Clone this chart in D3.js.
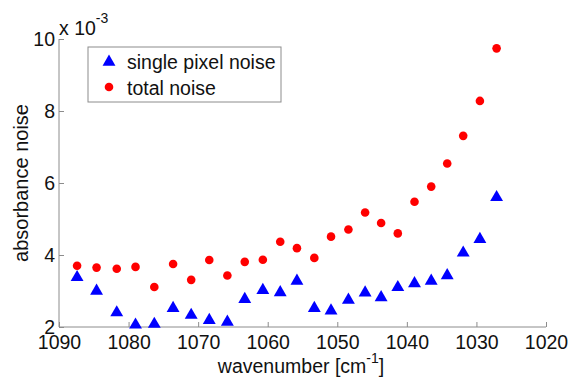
<!DOCTYPE html>
<html>
<head>
<meta charset="utf-8">
<script src="https://cdn.jsdelivr.net/npm/d3@7"></script>
<style>
  html, body { margin: 0; padding: 0; background: #fff; }
  svg { display: block; font-family: "Liberation Sans", Arial, sans-serif; }
</style>
</head>
<body>
<svg id="chart" width="570" height="379"></svg>
<script>
// Wavenumbers of the sampled channels (cm^-1)
const wavenumbers = [1087.4, 1084.6, 1081.7, 1079.0, 1076.3, 1073.6, 1071.0, 1068.4, 1065.8,
  1063.3, 1060.7, 1058.2, 1055.8, 1053.3, 1050.9, 1048.4, 1046.0, 1043.7, 1041.3,
  1038.9, 1036.5, 1034.2, 1031.9, 1029.5, 1027.1];

// Absorbance noise, units of 1e-3
const singlePixelNoise = [3.38, 3.00, 2.40, 2.06, 2.08, 2.52, 2.33, 2.19, 2.14,
  2.77, 3.02, 2.96, 3.28, 2.52, 2.45, 2.75, 2.95, 2.82, 3.10,
  3.21, 3.28, 3.43, 4.06, 4.44, 5.60];
const totalNoise = [3.70, 3.65, 3.62, 3.67, 3.11, 3.75, 3.31, 3.86, 3.43,
  3.81, 3.87, 4.37, 4.19, 3.92, 4.51, 4.71, 5.18, 4.89, 4.60,
  5.48, 5.90, 6.54, 7.31, 8.28, 9.74];

const xTicks = [1090, 1080, 1070, 1060, 1050, 1040, 1030, 1020];
const yTicks = [2, 4, 6, 8, 10];
const seriesNames = ["single pixel noise", "total noise"];

const svg = d3.select("#chart");
const margin = { left: 59, right: 24, top: 39, bottom: 52 };
const W = 570, H = 379;
const fs = 19.5;

const x = d3.scaleLinear().domain([1090, 1020]).range([margin.left, W - margin.right]);
const y = d3.scaleLinear().domain([2, 10]).range([H - margin.bottom, margin.top]);

const axisColor = "#8c8c8c";
const textColor = "#111";

// Bottom axis with inward ticks
const xAxis = svg.append("g")
  .attr("transform", `translate(0,${y(2)})`)
  .call(d3.axisBottom(x).tickValues(xTicks).tickSize(-5).tickFormat(d3.format("d")));
xAxis.select(".domain").attr("stroke", axisColor).attr("d", `M${x(1090)},0H${x(1020)}`);
xAxis.selectAll(".tick line").attr("stroke", axisColor);
xAxis.selectAll(".tick text").attr("fill", textColor).attr("font-size", fs)
  .attr("y", 22).attr("dy", 0);

// Left axis with inward ticks
const yAxis = svg.append("g")
  .attr("transform", `translate(${x(1090)},0)`)
  .call(d3.axisLeft(y).tickValues(yTicks).tickSize(-5).tickFormat(d3.format("d")));
yAxis.select(".domain").attr("stroke", axisColor).attr("d", `M0,${y(2)}V${y(10)}`);
yAxis.selectAll(".tick line").attr("stroke", axisColor);
yAxis.selectAll(".tick text").attr("fill", textColor).attr("font-size", fs)
  .attr("x", -4).attr("dy", "0.35em");

// Exponent label above the y axis
const expo = svg.append("text").attr("x", x(1090)).attr("y", 35)
  .attr("fill", textColor).attr("font-size", fs);
expo.append("tspan").text("x 10");
expo.append("tspan").attr("font-size", 14).attr("dy", -12).text("-3");

// Axis titles
const xTitle = svg.append("text").attr("x", 301).attr("y", 373)
  .attr("text-anchor", "middle").attr("fill", textColor).attr("font-size", fs);
xTitle.append("tspan").text("wavenumber [cm");
xTitle.append("tspan").attr("font-size", 14).attr("dy", -10).text("-1");
xTitle.append("tspan").attr("dy", 10).text("]");

svg.append("text")
  .attr("transform", `translate(28,${(y(2) + y(10)) / 2}) rotate(-90)`)
  .attr("text-anchor", "middle").attr("fill", textColor).attr("font-size", 20)
  .text("absorbance noise");

// Markers
const tri = d3.symbol().type(d3.symbolTriangle).size(72);
svg.append("g").selectAll("path").data(wavenumbers)
  .join("path")
  .attr("d", tri)
  .attr("transform", (d, i) => `translate(${x(d)},${y(singlePixelNoise[i])})`)
  .attr("fill", "#0000ff");

svg.append("g").selectAll("circle").data(wavenumbers)
  .join("circle")
  .attr("cx", d => x(d))
  .attr("cy", (d, i) => y(totalNoise[i]))
  .attr("r", 4.3)
  .attr("fill", "#ff0000");

// Legend
const legend = svg.append("g").attr("transform", "translate(88,47)");
legend.append("rect").attr("width", 193).attr("height", 55)
  .attr("fill", "#fff").attr("stroke", axisColor).attr("stroke-width", 1);
legend.append("path").attr("d", tri).attr("transform", "translate(21,15)").attr("fill", "#0000ff");
legend.append("circle").attr("cx", 21).attr("cy", 40).attr("r", 4.3).attr("fill", "#ff0000");
legend.append("text").attr("x", 39).attr("y", 22).attr("font-size", fs).attr("fill", textColor).text(seriesNames[0]);
legend.append("text").attr("x", 39).attr("y", 48).attr("font-size", fs).attr("fill", textColor).text(seriesNames[1]);
</script>
</body>
</html>
